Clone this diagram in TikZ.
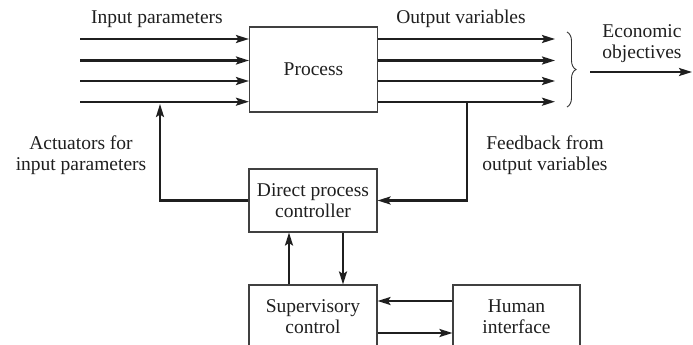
\documentclass[tikz,border=0pt]{standalone}
\usepackage{fontspec}
\setmainfont{Liberation Serif}
\usetikzlibrary{arrows.meta,decorations.pathreplacing}
\begin{document}
\begin{tikzpicture}[x=1pt,y=-1pt,
  txt/.style={font=\fontsize{19.5}{21}\selectfont, align=center, inner sep=0pt, text=black!88},
  box/.style={txt, draw=black!75, line width=1.1pt, minimum width=128pt},
  arr/.style={line width=2.2pt, draw=black!88, -{Stealth[length=13pt,width=8pt,inset=2.5pt]}},
  ln/.style={line width=2.2pt, draw=black!88}]
\useasboundingbox (0,0) rectangle (693,345);
\clip (0,0) rectangle (693,345);
% boxes
\node[box, minimum height=85pt] (P) at (313.5,69.5) {Process};
\node[box, minimum height=63pt] (C) at (313,200.5) {Direct process\\controller};
\node[box, minimum height=64pt] (S) at (313,317) {Supervisory\\control};
\node[box, minimum height=64pt, minimum width=127pt] (H) at (516.5,317) {Human\\interface};
% labels
\node[txt] (lin) at (157,19) {Input parameters};
\node[txt] (lout) at (461,19) {Output variables};
\node[txt] (leco) at (642,44) {Economic\\objectives};
\node[txt] (lact) at (81,155) {Actuators for\\input parameters};
\node[txt] (lfb) at (545,155) {Feedback from\\output variables};
% coordinates
\coordinate (i1) at (80,39);
\coordinate (i2) at (80,60.5);
\coordinate (i3) at (80,81);
\coordinate (i4) at (80,101.7);
\coordinate (e1) at (555,39);
\coordinate (e2) at (555,60.5);
\coordinate (e3) at (555,81);
\coordinate (e4) at (555,101.7);
\coordinate (act) at (160,104);
\coordinate (fb) at (467,101.7);
\coordinate (ea) at (590,72);
\coordinate (eb) at (692,72);
% inputs
\foreach \i in {i1,i2,i3,i4} \draw[arr] (\i) -- (\i -| P.west);
% outputs
\foreach \e in {e1,e2,e3,e4} \draw[arr] (\e -| P.east) -- (\e);
% brace
\draw[decorate, decoration={brace, amplitude=9pt}, line width=0.9pt, draw=black!80] (567,32) -- (567,107);
\draw[arr] (ea) -- (eb);
% actuator
\draw[arr] (C.west) -| (act);
% feedback
\draw[arr] (fb) |- (C.east);
% controller <-> supervisory
\draw[arr] ([xshift=-24pt]S.north) -- ([xshift=-24pt]C.south);
\draw[arr] ([xshift=30pt]C.south) -- ([xshift=30pt]S.north);
% supervisory <-> human
\draw[arr] ([yshift=16pt]H.west) -- ([yshift=16pt]S.east);
\draw[arr] ([yshift=-16pt]S.east) -- ([yshift=-16pt]H.west);
\end{tikzpicture}
\end{document}
